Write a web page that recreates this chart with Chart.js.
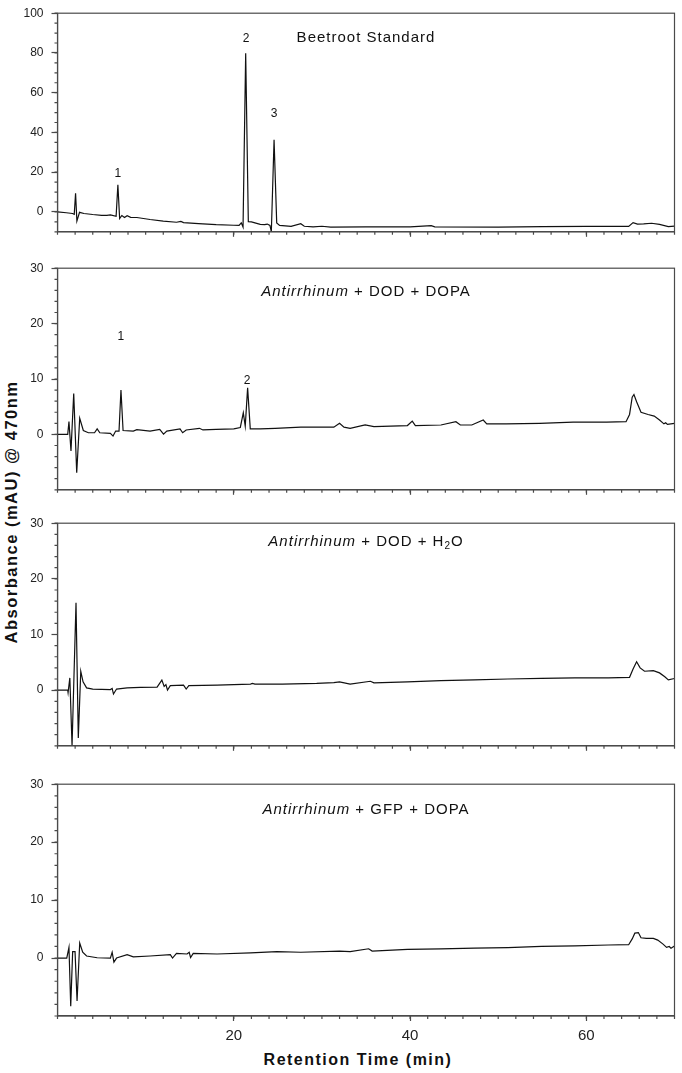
<!DOCTYPE html>
<html>
<head>
<meta charset="utf-8">
<script src="https://cdn.jsdelivr.net/npm/chart.js@4.4.1/dist/chart.umd.min.js"></script>
<style>
  body { margin: 0; background: #fff; }
  #wrap { position: relative; width: 682px; height: 1073px; overflow: hidden; }
  .panel { position: absolute; left: 0; }
  .axis-title { position: absolute; font: bold 16px "Liberation Sans", Arial, sans-serif; color: #111; white-space: nowrap; letter-spacing: 1.5px; }
  #ytitle { left: 11px; top: 512px; transform: translate(-50%, -50%) rotate(-90deg); font-size: 16.5px; }
  #xtitle { left: 358px; top: 1060px; transform: translate(-50%, -50%); }
</style>
</head>
<body>
<div id="wrap">
  <div id="ytitle" class="axis-title">Absorbance (mAU) @ 470nm</div>
  <div id="xtitle" class="axis-title">Retention Time (min)</div>
</div>
<script>
// retention time (min) / absorbance (mAU)
const beetTime = [0, 1.0, 1.7, 1.9, 2.05, 2.2, 2.5, 3.0, 4.0, 5.0,
  5.6, 6.0, 6.65, 6.85, 7.05, 7.3, 7.6, 7.9, 8.3, 9.0,
  10.5, 12.0, 13.5, 14.0, 14.3, 16.0, 18.0, 20.0, 20.6, 20.85,
  21.05, 21.35, 21.65, 22.0, 22.5, 23.0, 23.5, 23.8, 24.1, 24.26,
  24.57, 24.87, 25.2, 26.5, 27.6, 28.0, 29.0, 30.0, 31.0, 35.0,
  40.0, 42.4, 42.8, 50.0, 55.0, 60.0, 64.8, 65.3, 65.8, 66.5,
  67.4, 68.3, 69.3, 70.0];
const beetAbs = [0, -0.4, -0.8, -1.2, 9.4, -4.6, -0.2, -0.8, -1.3, -1.7,
  -1.7, -1.5, -2.2, 13.7, -3.3, -1.8, -2.8, -1.9, -2.7, -2.8,
  -3.8, -4.6, -5.2, -4.8, -5.4, -5.9, -6.4, -6.7, -6.8, -5.5,
  -7.6, 79.8, -4.9, -5.0, -5.6, -6.3, -6.4, -6.1, -6.8, -10,
  36.3, -5.5, -6.8, -7.3, -5.9, -7.2, -7.5, -7.2, -7.6, -7.5,
  -7.5, -6.9, -7.5, -7.6, -7.4, -7.3, -7.3, -5.4, -6.1, -6.0,
  -5.7, -6.3, -7.4, -7.1];

const dopaTime = [0, 1.16, 1.3, 1.53, 1.84, 2.18, 2.52, 2.93, 3.5, 4.2,
  4.5, 4.8, 6.0, 6.3, 6.6, 6.98, 7.2, 7.44, 8.6, 9.0,
  10.5, 11.6, 12.03, 12.4, 13.9, 14.2, 14.6, 16.1, 16.5, 18.0,
  20.0, 20.74, 21.08, 21.3, 21.57, 21.87, 23.0, 24.7, 27.6, 31.35,
  32.0, 32.5, 33.2, 34.9, 35.9, 39.7, 40.25, 40.6, 43.5, 45.2,
  45.7, 47.0, 48.3, 48.7, 50.9, 54.7, 58.5, 62.3, 64.5, 64.9,
  65.2, 65.4, 65.7, 66.2, 67.0, 67.7, 68.3, 68.8, 69.0, 69.2,
  70.0];
const dopaAbs = [0, 0, 2.3, -3.0, 7.4, -6.9, 2.9, 0.7, 0.3, 0.3,
  1.0, 0.3, 0.2, -0.3, 0.6, 0.6, 8.0, 0.7, 0.6, 0.85,
  0.6, 0.9, 0.05, 0.6, 1.0, 0.3, 0.8, 1.1, 0.8, 0.9,
  1.0, 1.25, 3.9, 1.5, 8.4, 1.0, 1.0, 1.1, 1.3, 1.3,
  2.0, 1.3, 1.1, 1.7, 1.4, 1.6, 2.4, 1.6, 1.7, 2.3,
  1.7, 1.7, 2.6, 1.9, 1.9, 2.0, 2.2, 2.2, 2.3, 3.6,
  6.7, 7.2, 5.9, 4.0, 3.6, 3.3, 2.6, 1.9, 2.1, 1.8,
  2.0];

const waterTime = [0, 1.16, 1.2, 1.4, 1.65, 2.1, 2.36, 2.64, 2.9, 3.3,
  4.0, 6.0, 6.2, 6.35, 6.7, 7.9, 9.4, 11.3, 11.84, 12.1,
  12.3, 12.48, 12.8, 14.3, 14.6, 14.9, 18.1, 21.9, 22.1, 22.4,
  25.5, 29.4, 31.35, 32.0, 33.2, 35.5, 35.9, 39.7, 43.5, 47.3,
  51.1, 54.9, 58.7, 62.5, 64.9, 65.3, 65.7, 66.1, 66.6, 67.6,
  68.3, 68.9, 69.3, 70.0];
const waterAbs = [0, 0, -0.45, 2.2, -10, 15.7, -8.6, 3.4, 1.5, 0.4,
  0.2, 0.1, 0.3, -0.7, 0.2, 0.4, 0.5, 0.55, 1.8, 0.67,
  1.0, 0, 0.8, 0.9, 0.2, 0.8, 0.9, 1.1, 1.2, 1.1,
  1.1, 1.2, 1.35, 1.5, 1.1, 1.6, 1.3, 1.5, 1.7, 1.85,
  2.0, 2.1, 2.2, 2.2, 2.3, 3.8, 5.1, 4.0, 3.4, 3.5,
  3.1, 2.4, 1.85, 2.1];

const gfpTime = [0, 1.05, 1.3, 1.5, 1.72, 1.99, 2.22, 2.52, 2.86, 3.3,
  4.5, 6.0, 6.2, 6.4, 6.7, 7.9, 8.6, 10.5, 12.8, 13.05,
  13.5, 14.7, 14.94, 15.1, 15.4, 18.1, 21.9, 24.9, 27.6, 32.0,
  33.2, 35.3, 35.7, 39.7, 43.5, 47.3, 51.1, 54.9, 58.7, 62.5,
  64.8, 65.2, 65.5, 65.9, 66.2, 66.8, 67.6, 68.1, 68.7, 69.1,
  69.4, 69.6, 70.0];
const gfpAbs = [0, 0, 1.85, -8.3, 1.1, 1.1, -7.4, 2.6, 1.0, 0.35,
  0.05, 0, 1.0, -0.7, 0, 0.6, 0.2, 0.35, 0.6, 0,
  0.8, 0.7, 1.0, 0.1, 0.8, 0.7, 0.9, 1.1, 1.0, 1.2,
  1.1, 1.6, 1.2, 1.5, 1.6, 1.7, 1.8, 2.0, 2.1, 2.25,
  2.3, 3.3, 4.3, 4.4, 3.5, 3.4, 3.4, 3.1, 2.4, 1.85,
  2.0, 1.7, 2.1];

// peak numbers
const beetPeakTime = [6.84, 21.4, 24.57];
const beetPeakAbs = [19.2, 87.3, 49.5];
const beetPeakText = ["1", "2", "3"];
const dopaPeakTime = [7.18, 21.5];
const dopaPeakAbs = [17.7, 9.7];
const dopaPeakText = ["1", "2"];

// axis ticks
const xMajorTicks = [20, 40, 60];
const beetYTicks = [0, 20, 40, 60, 80, 100];
const sampleYTicks = [0, 10, 20, 30];

const FONT = '"Liberation Sans", Arial, sans-serif';
const FRAME = "#4a4a4a";
const PAD_TOP = 8;

const panels = [
  { top: 6, bottom: 239, time: beetTime, abs: beetAbs, yMax: 100, yTicks: beetYTicks, yMinor: 5,
    title: [["Beetroot Standard", ""]], titleY: 87.7,
    peaks: { t: beetPeakTime, a: beetPeakAbs, s: beetPeakText } },
  { top: 261, bottom: 497, time: dopaTime, abs: dopaAbs, yMax: 30, yTicks: sampleYTicks, yMinor: 2,
    title: [["Antirrhinum", "italic "], [" + DOD + DOPA", ""]], titleY: 25.7,
    peaks: { t: dopaPeakTime, a: dopaPeakAbs, s: dopaPeakText } },
  { top: 516, bottom: 753, time: waterTime, abs: waterAbs, yMax: 30, yTicks: sampleYTicks, yMinor: 2,
    title: [["Antirrhinum", "italic "], [" + DOD + H", ""], ["2", "sub"], ["O", ""]], titleY: 26.7,
    peaks: null },
  { top: 777, bottom: 1016, time: gfpTime, abs: gfpAbs, yMax: 30, yTicks: sampleYTicks, yMinor: 2,
    title: [["Antirrhinum", "italic "], [" + GFP + DOPA", ""]], titleY: 25.6,
    peaks: null, last: true }
];

const framePlugin = {
  id: "frame",
  afterDraw(chart, args, opts) {
    const { ctx, chartArea: a, scales: { x, y } } = chart;
    ctx.save();
    ctx.strokeStyle = FRAME;
    ctx.lineWidth = 1.2;
    ctx.beginPath();
    for (let v = x.min; v <= x.max; v += 2) {
      const px = x.getPixelForValue(v);
      ctx.moveTo(px, a.bottom);
      ctx.lineTo(px, a.bottom + 3);
    }
    for (let v = y.min; v <= y.max; v += opts.yMinor) {
      const py = y.getPixelForValue(v);
      ctx.moveTo(a.left, py);
      ctx.lineTo(a.left - 3, py);
    }
    ctx.stroke();
    ctx.strokeRect(a.left, a.top, a.right - a.left, a.bottom - a.top);

    // panel title, centred over the plot
    ctx.fillStyle = "#111";
    ctx.textBaseline = "middle";
    ctx.textAlign = "left";
    ctx.letterSpacing = "1px";
    const fontFor = st => st === "sub" ? "10px " + FONT : st + "15px " + FONT;
    let total = 0;
    opts.title.forEach(([txt, st]) => { ctx.font = fontFor(st); total += ctx.measureText(txt).width; });
    let cx = (a.left + a.right) / 2 - total / 2;
    const ty = y.getPixelForValue(opts.titleY);
    opts.title.forEach(([txt, st]) => {
      ctx.font = fontFor(st);
      ctx.fillText(txt, cx, st === "sub" ? ty + 5 : ty);
      cx += ctx.measureText(txt).width;
    });

    // peak numbers
    if (opts.peaks) {
      ctx.letterSpacing = "0px";
      ctx.textAlign = "center";
      ctx.font = "12px " + FONT;
      opts.peaks.s.forEach((s, i) => {
        ctx.fillText(s, x.getPixelForValue(opts.peaks.t[i]), y.getPixelForValue(opts.peaks.a[i]));
      });
    }
    ctx.restore();
  }
};

const wrap = document.getElementById("wrap");
panels.forEach(p => {
  const xHeight = p.last ? 1073 - p.bottom : 8;
  const h = PAD_TOP + (p.bottom - p.top) + xHeight;
  const canvas = document.createElement("canvas");
  canvas.className = "panel";
  canvas.width = 682;
  canvas.height = h;
  canvas.style.top = (p.top - PAD_TOP) + "px";
  wrap.appendChild(canvas);

  new Chart(canvas, {
    type: "line",
    data: {
      datasets: [{
        data: p.time.map((t, i) => ({ x: t, y: p.abs[i] })),
        borderColor: "#111",
        borderWidth: 1.2,
        pointRadius: 0,
        tension: 0,
        fill: false
      }]
    },
    options: {
      responsive: false,
      animation: false,
      events: [],
      layout: { padding: { top: PAD_TOP, right: 7.5, left: 0, bottom: 0 } },
      plugins: {
        legend: { display: false },
        tooltip: { enabled: false },
        frame: { yMinor: p.yMinor, title: p.title, titleY: p.titleY, peaks: p.peaks }
      },
      scales: {
        x: {
          type: "linear", min: 0, max: 70,
          afterBuildTicks: s => { s.ticks = xMajorTicks.map(v => ({ value: v })); },
          afterFit: s => { s.height = xHeight; },
          grid: { drawOnChartArea: false, tickLength: 5, tickColor: FRAME, tickWidth: 1.2 },
          border: { color: FRAME, width: 1.2 },
          ticks: { display: !!p.last, color: "#222", font: { family: FONT, size: 15 }, padding: 6, maxRotation: 0 }
        },
        y: {
          type: "linear", min: -10, max: p.yMax,
          afterBuildTicks: s => { s.ticks = p.yTicks.map(v => ({ value: v })); },
          afterFit: s => { s.width = 57.5; },
          grid: { drawOnChartArea: false, tickLength: 6, tickColor: FRAME, tickWidth: 1.2 },
          border: { color: FRAME, width: 1.2 },
          ticks: { color: "#222", font: { family: FONT, size: 12 }, padding: 8 }
        }
      }
    },
    plugins: [framePlugin]
  });
});
</script>
</body>
</html>
